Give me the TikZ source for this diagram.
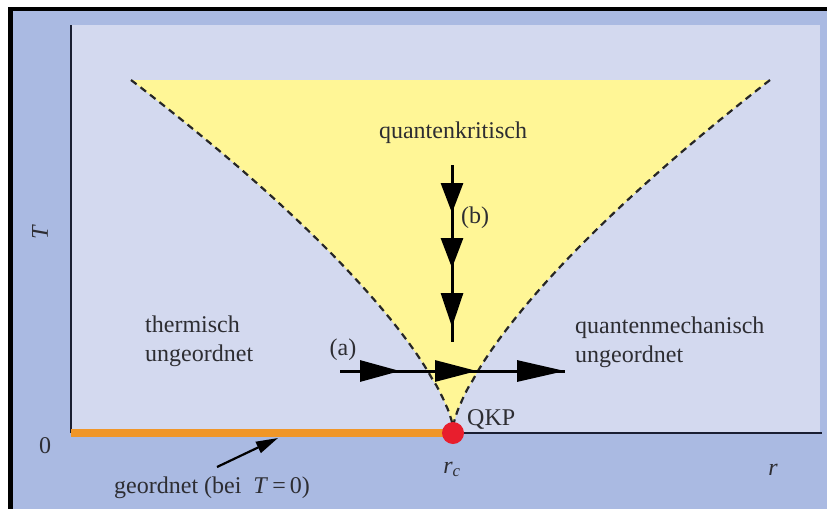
\documentclass[tikz,border=0pt]{standalone}
\usepackage{fontspec}
\setmainfont{Liberation Serif}
\usetikzlibrary{arrows.meta,decorations.markings}
\definecolor{outerblue}{RGB}{170,186,226}
\definecolor{innerblue}{RGB}{211,217,239}
\definecolor{qyellow}{RGB}{255,246,150}
\definecolor{qorange}{RGB}{240,150,40}
\definecolor{qred}{RGB}{232,30,45}
\definecolor{axiscol}{RGB}{25,30,50}
\definecolor{txt}{RGB}{45,45,50}
\begin{document}
\begin{tikzpicture}[x=1pt,y=-1pt,
  lbl/.style={font=\fontsize{24}{29}\selectfont, text=txt, inner sep=0pt},
  axisline/.style={draw=axiscol, line width=2pt},
  boundary/.style={draw=black!85, line width=2.2pt, dash pattern=on 7pt off 5pt},
  flowline/.style={draw=black, line width=3pt},
]
\useasboundingbox (0,0) rectangle (827,509);
\fill[white] (0,0) rectangle (827,509);
\fill[black] (8,7) rectangle (827,509);
\fill[outerblue] (13,11) rectangle (827,509);
\fill[innerblue] (71,25) rectangle (820,433);

% quantum critical fan
\fill[qyellow] plot[domain=348:0.5,samples=90] ({453-322*exp(1.41*ln(\x/348))},{428-\x})
  -- plot[domain=0.5:348,samples=90] ({453+317*exp(1.41*ln(\x/348))},{428-\x}) -- cycle;
\draw[boundary] plot[domain=348:0.5,samples=90] ({453-322*exp(1.41*ln(\x/348))},{428-\x});
\draw[boundary] plot[domain=348:0.5,samples=90] ({453+317*exp(1.41*ln(\x/348))},{428-\x});

% axes
\coordinate (ytop) at (71,25);
\coordinate (origin) at (71,433);
\coordinate (xend) at (822,433);
\coordinate (qcp) at (453,433);
\draw[axisline] (ytop) -- (origin);
\draw[axisline] (origin) -- (xend);
\draw[qorange, line width=8pt] (origin) -- (qcp);
\fill[qred] (qcp) circle (11);

% arrow (a)
\coordinate (a1) at (340,371);
\coordinate (a2) at (565,371);
\draw[flowline, postaction={decorate, decoration={markings,
   mark=at position 60pt with {\arrow{Triangle[length=40pt,width=21pt]}},
   mark=at position 137pt with {\arrow{Triangle[length=42pt,width=21pt]}},
   mark=at position 225pt with {\arrow{Triangle[length=48pt,width=21pt]}}}}] (a1) -- (a2);

% arrow (b)
\coordinate (b1) at (452,165);
\coordinate (b2) at (452,342);
\draw[flowline, postaction={decorate, decoration={markings,
   mark=at position 48pt with {\arrow{Triangle[length=30pt,width=22pt]}},
   mark=at position 103pt with {\arrow{Triangle[length=30pt,width=22pt]}},
   mark=at position 162pt with {\arrow{Triangle[length=34pt,width=22pt]}}}}] (b1) -- (b2);

% labels
\node[lbl, anchor=base] (qk) at (453,138) {quantenkritisch};
\node[lbl, align=left, anchor=base west] (th) at (145,361) {thermisch\\ungeordnet};
\node[lbl, align=left, anchor=base west] (qm) at (575,362) {quantenmechanisch\\ungeordnet};
\node[lbl, anchor=base] (la) at (343,355) {(a)};
\node[lbl, anchor=base] (lb) at (475,223) {(b)};
\node[lbl, anchor=base west] (qkp) at (467,425) {QKP};
\node[lbl, anchor=base] (zero) at (45,453) {0};
\node[lbl, anchor=base] (rc) at (452,473) {\textit{r}\textsubscript{\textit{c}}};
\node[lbl, anchor=base] (rr) at (773,475) {\textit{r}};
\node[lbl, rotate=90] (TT) at (40,232) {\textit{T}};
\node[lbl, anchor=base] (geo) at (212,493) {geordnet (bei\ \ \textit{T}\,=\,0)};

% pointer to ordered line
\coordinate (g1) at (217,467);
\coordinate (g2) at (278,438);
\draw[black, line width=2.2pt, -{Triangle[length=22pt,width=12pt]}] (g1) -- (g2);
\end{tikzpicture}
\end{document}
